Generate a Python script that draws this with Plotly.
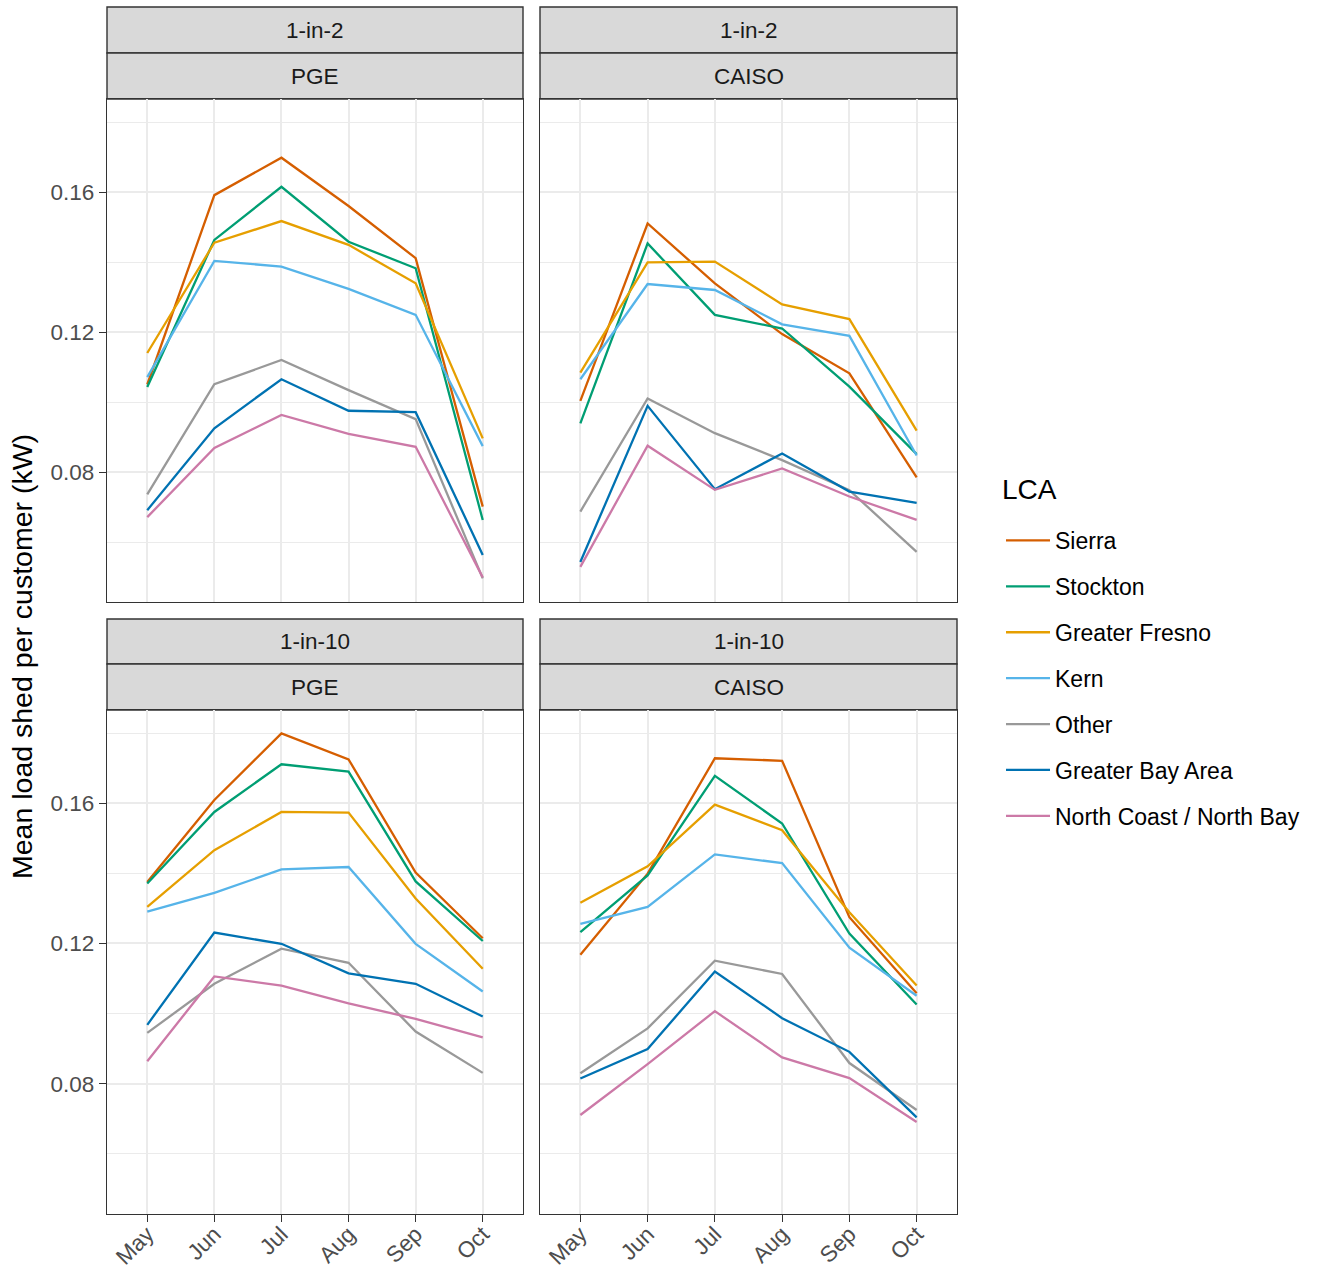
import plotly.graph_objects as go

months = ["May", "Jun", "Jul", "Aug", "Sep", "Oct"]
lcas = ["Sierra", "Stockton", "Greater Fresno", "Kern", "Other",
        "Greater Bay Area", "North Coast / North Bay"]
lca_colors = ["#D55E00", "#009E73", "#E69F00", "#56B4E9", "#999999",
              "#0072B2", "#CC79A7"]
scenario_labels = ["1-in-2", "1-in-2", "1-in-10", "1-in-10"]
region_labels = ["PGE", "CAISO", "PGE", "CAISO"]
y_ticks = [0.08, 0.12, 0.16]
y_minor = [0.06, 0.10, 0.14, 0.18]

# rows follow the order of lcas
pge_1in2 = [
    [0.1050, 0.1591, 0.1698, 0.1560, 0.1411, 0.0701],
    [0.1043, 0.1463, 0.1615, 0.1458, 0.1382, 0.0663],
    [0.1140, 0.1455, 0.1517, 0.1449, 0.1339, 0.0896],
    [0.1071, 0.1403, 0.1387, 0.1323, 0.1249, 0.0874],
    [0.0736, 0.1051, 0.1120, 0.1034, 0.0951, 0.0496],
    [0.0691, 0.0925, 0.1065, 0.0975, 0.0971, 0.0563],
    [0.0671, 0.0869, 0.0963, 0.0909, 0.0872, 0.0499],
]
caiso_1in2 = [
    [0.1003, 0.1510, 0.1339, 0.1194, 0.1082, 0.0785],
    [0.0939, 0.1453, 0.1249, 0.1210, 0.1044, 0.0851],
    [0.1084, 0.1399, 0.1401, 0.1279, 0.1237, 0.0918],
    [0.1065, 0.1337, 0.1320, 0.1222, 0.1189, 0.0847],
    [0.0687, 0.1010, 0.0911, 0.0834, 0.0748, 0.0572],
    [0.0543, 0.0989, 0.0751, 0.0853, 0.0744, 0.0712],
    [0.0529, 0.0875, 0.0749, 0.0810, 0.0730, 0.0663],
]
pge_1in10 = [
    [0.1375, 0.1609, 0.1799, 0.1725, 0.1402, 0.1215],
    [0.1371, 0.1575, 0.1711, 0.1690, 0.1377, 0.1207],
    [0.1304, 0.1466, 0.1575, 0.1573, 0.1328, 0.1128],
    [0.1291, 0.1344, 0.1411, 0.1418, 0.1199, 0.1063],
    [0.0945, 0.1085, 0.1185, 0.1145, 0.0949, 0.0831],
    [0.0968, 0.1231, 0.1199, 0.1115, 0.1085, 0.0992],
    [0.0864, 0.1106, 0.1080, 0.1029, 0.0985, 0.0932],
]
caiso_1in10 = [
    [0.1168, 0.1399, 0.1728, 0.1721, 0.1275, 0.1058],
    [0.1232, 0.1394, 0.1678, 0.1542, 0.1228, 0.1026],
    [0.1316, 0.1420, 0.1596, 0.1523, 0.1289, 0.1080],
    [0.1256, 0.1304, 0.1454, 0.1429, 0.1188, 0.1051],
    [0.0830, 0.0958, 0.1151, 0.1113, 0.0859, 0.0725],
    [0.0815, 0.0899, 0.1120, 0.0987, 0.0891, 0.0704],
    [0.0711, 0.0856, 0.1007, 0.0875, 0.0816, 0.0691],
]
panels = [pge_1in2, caiso_1in2, pge_1in10, caiso_1in10]

# ---------------- layout geometry (pixels) ----------------
W, H = 1324, 1270
ML, MR, MT, MB = 107, 367, 7, 56
PW, PH = W - ML - MR, H - MT - MB


def px_x(p):
    return (p - ML) / PW


def px_y(p):
    return (H - MB - p) / PH


col_px = [(107, 523), (540, 957)]
row_plot_px = [(99, 602), (710, 1214)]
row_strip_px = [[(7, 53), (53, 99)], [(619, 664), (664, 710)]]

FONT = "Liberation Sans, Arial, sans-serif"
GRID = "#EBEBEB"
BORDER = "#333333"

fig = go.Figure()

for i, data in enumerate(panels):
    r, c = divmod(i, 2)
    ax = "" if i == 0 else str(i + 1)
    for j, name in enumerate(lcas):
        fig.add_trace(go.Scatter(
            x=months, y=data[j], mode="lines", name=name,
            line=dict(color=lca_colors[j], width=2.3),
            legendgroup=name, showlegend=(i == 0),
            xaxis="x" + ax, yaxis="y" + ax,
            hovertemplate=name + "<br>%{x}: %{y:.3f}<extra></extra>",
        ))
    x0, x1 = col_px[c]
    y0, y1 = row_plot_px[r]
    fig.layout["xaxis" + ax] = dict(
        domain=[px_x(x0), px_x(x1)], anchor="y" + ax,
        type="category", categoryorder="array", categoryarray=months,
        range=[-0.6, 5.6], showgrid=True, gridcolor=GRID, gridwidth=1.7,
        zeroline=False, showline=True, mirror=True, linecolor=BORDER,
        linewidth=1.4,
        ticks="outside" if r == 1 else "", ticklen=7, tickwidth=1.4,
        tickcolor=BORDER, showticklabels=(r == 1), tickangle=-45,
        ticklabelstandoff=-10,
        tickfont=dict(family=FONT, size=22.5, color="#4D4D4D"),
    )
    fig.layout["yaxis" + ax] = dict(
        domain=[px_y(y1), px_y(y0)], anchor="x" + ax,
        range=[0.04286, 0.18657], tickvals=y_ticks,
        ticktext=["%.2f" % v for v in y_ticks],
        showgrid=True, gridcolor=GRID, gridwidth=1.7, zeroline=False,
        minor=dict(tickvals=y_minor, showgrid=True, gridcolor=GRID,
                   gridwidth=1.1, ticks=""),
        showline=True, mirror=True, linecolor=BORDER, linewidth=1.4,
        ticks="outside" if c == 0 else "", ticklen=7, tickwidth=1.4,
        tickcolor=BORDER, showticklabels=(c == 0),
        tickfont=dict(family=FONT, size=22.5, color="#4D4D4D"),
    )
    # facet strips
    labels = [scenario_labels[i], region_labels[i]]
    for k, (s0, s1) in enumerate(row_strip_px[r]):
        fig.add_shape(type="rect", xref="paper", yref="paper",
                      x0=px_x(x0), x1=px_x(x1), y0=px_y(s1), y1=px_y(s0),
                      fillcolor="#D9D9D9", line=dict(color=BORDER, width=1.4),
                      layer="below")
        fig.add_annotation(x=px_x((x0 + x1) / 2), y=px_y((s0 + s1) / 2),
                           xref="paper", yref="paper", text=labels[k],
                           showarrow=False, xanchor="center", yanchor="middle",
                           font=dict(family=FONT, size=22.5, color="#1A1A1A"))

# y-axis title
fig.add_annotation(x=px_x(22), y=px_y(657), xref="paper", yref="paper",
                   text="Mean load shed per customer (kW)", textangle=-90,
                   showarrow=False, xanchor="center", yanchor="middle",
                   font=dict(family=FONT, size=28.5, color="#000000"))

# legend title
fig.add_annotation(x=px_x(1000), y=px_y(489), xref="paper", yref="paper",
                   text="LCA", showarrow=False, xanchor="left",
                   yanchor="middle",
                   font=dict(family=FONT, size=28, color="#000000"))

fig.update_layout(
    width=W, height=H,
    margin=dict(l=ML, r=MR, t=MT, b=MB, autoexpand=False),
    paper_bgcolor="white", plot_bgcolor="white",
    font=dict(family=FONT),
    legend=dict(
        font=dict(family=FONT, size=23, color="#000"),
        x=px_x(1001), y=px_y(519), xanchor="left", yanchor="top",
        tracegroupgap=13, itemwidth=44, bgcolor="rgba(0,0,0,0)",
    ),
    hovermode="closest",
)

fig.write_html("out.html")
